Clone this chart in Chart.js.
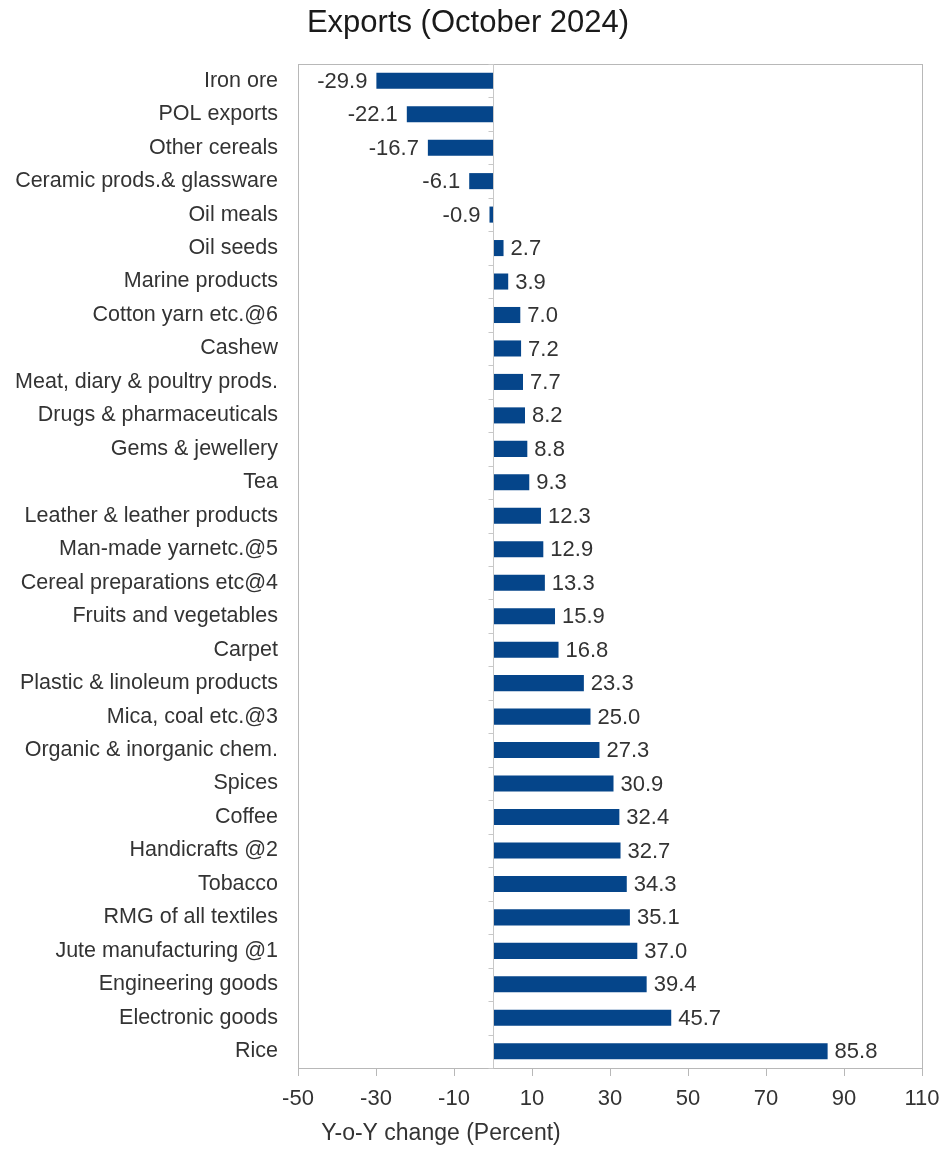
<!DOCTYPE html>
<html>
<head>
<meta charset="utf-8">
<script src="https://cdn.jsdelivr.net/npm/chart.js@4"></script>
<style>
html,body{margin:0;padding:0;background:#fff;}
#wrap{width:943px;height:1172px;}
</style>
</head>
<body>
<div id="wrap"><canvas id="c" width="943" height="1172"></canvas></div>
<script>
const categories = [
  "Iron ore","POL exports","Other cereals","Ceramic prods.& glassware","Oil meals",
  "Oil seeds","Marine products","Cotton yarn etc.@6","Cashew","Meat, diary & poultry prods.",
  "Drugs & pharmaceuticals","Gems & jewellery","Tea","Leather & leather products","Man-made yarnetc.@5",
  "Cereal preparations etc@4","Fruits and vegetables","Carpet","Plastic & linoleum products","Mica, coal etc.@3",
  "Organic & inorganic chem.","Spices","Coffee","Handicrafts @2","Tobacco",
  "RMG of all textiles","Jute manufacturing @1","Engineering goods","Electronic goods","Rice"
];
const yoyChange = [
  -29.9,-22.1,-16.7,-6.1,-0.9,
  2.7,3.9,7.0,7.2,7.7,
  8.2,8.8,9.3,12.3,12.9,
  13.3,15.9,16.8,23.3,25.0,
  27.3,30.9,32.4,32.7,34.3,
  35.1,37.0,39.4,45.7,85.8
];
const xMin = -50, xMax = 110, xStep = 20;
const titleText = "Exports (October 2024)";
const xAxisTitle = "Y-o-Y change (Percent)";

const FONT = "'Liberation Sans', Arial, sans-serif";
const TXT = "#333333";

const frameAndLabels = {
  id: 'frameAndLabels',
  afterDatasetsDraw(chart) {
    const ctx = chart.ctx;
    const a = chart.chartArea;
    const xs = chart.scales.x, ys = chart.scales.y;
    ctx.save();
    // frame
    ctx.strokeStyle = '#b8b8b8';
    ctx.lineWidth = 1;
    ctx.strokeRect(Math.round(a.left)+0.5, Math.round(a.top)+0.5, Math.round(a.right-a.left), Math.round(a.bottom-a.top));
    // zero line + category ticks
    const x0 = Math.round(xs.getPixelForValue(0)) + 0.5;
    ctx.strokeStyle = '#c8c8c8';
    ctx.beginPath();
    ctx.moveTo(x0, a.top); ctx.lineTo(x0, a.bottom);
    const n = categories.length;
    for (let i = 0; i <= n; i++) {
      const yb = Math.round(ys.getPixelForValue(i - 0.5)) + 0.5;
      ctx.moveTo(x0 - 5, yb); ctx.lineTo(x0, yb);
    }
    ctx.stroke();
    // value labels
    const meta = chart.getDatasetMeta(0);
    ctx.font = "22px " + FONT;
    ctx.fillStyle = TXT;
    ctx.textBaseline = 'middle';
    meta.data.forEach((bar, i) => {
      const v = yoyChange[i];
      const s = v.toFixed(1);
      if (v >= 0) { ctx.textAlign = 'left'; ctx.fillText(s, bar.x + 7, bar.y + 1); }
      else { ctx.textAlign = 'right'; ctx.fillText(s, bar.x - 9, bar.y + 1); }
    });
    // chart title
    ctx.textAlign = 'center';
    ctx.fillStyle = '#1a1a1a';
    ctx.font = "31px " + FONT;
    ctx.fillText(titleText, 468, 23);
    // x-axis title
    ctx.fillStyle = TXT;
    ctx.font = "23px " + FONT;
    ctx.fillText(xAxisTitle, 441, 1134);
    ctx.restore();
  }
};

new Chart(document.getElementById('c'), {
  type: 'bar',
  data: {
    labels: categories,
    datasets: [{
      data: yoyChange,
      backgroundColor: '#05458a',
      borderWidth: 0,
      categoryPercentage: 1.0,
      barPercentage: 0.48
    }]
  },
  options: {
    indexAxis: 'y',
    responsive: false,
    animation: false,
    layout: { padding: { left: 0, right: 21, top: 64, bottom: 0 } },
    plugins: {
      legend: { display: false },
      tooltip: { enabled: false },
      title: { display: false }
    },
    scales: {
      x: {
        type: 'linear',
        min: xMin, max: xMax,
        ticks: { stepSize: xStep, color: TXT, font: { family: FONT, size: 22 }, padding: 10 },
        grid: { drawOnChartArea: false, drawTicks: true, tickLength: 8, color: '#b8b8b8' },
        border: { display: false },
        afterFit(s) { s.height = 104; s.paddingLeft = 0; s.paddingRight = 0; }
      },
      y: {
        ticks: { color: TXT, font: { family: FONT, size: 21.5 }, padding: 20, autoSkip: false },
        grid: { display: false, drawTicks: false },
        border: { display: false },
        afterFit(s) { s.width = 298; s.paddingTop = 0; s.paddingBottom = 0; }
      }
    }
  },
  plugins: [frameAndLabels]
});
</script>
</body>
</html>
